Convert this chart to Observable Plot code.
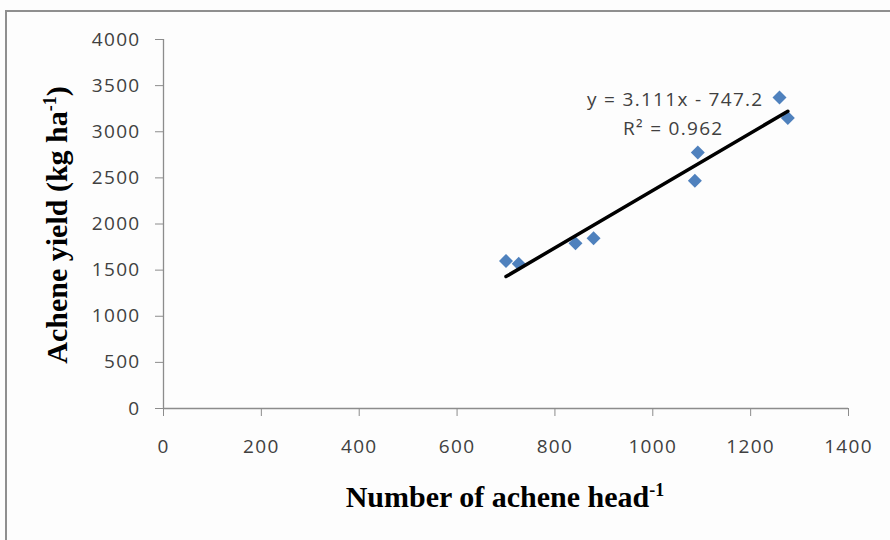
<!DOCTYPE html>
<html>
<head>
<meta charset="utf-8">
<script src="https://cdn.jsdelivr.net/npm/d3@7"></script>
<script src="https://cdn.jsdelivr.net/npm/@observablehq/plot@0.6"></script>
<style>
  body { margin: 0; background: #ffffff; }
  #wrap { position: relative; width: 890px; height: 540px; overflow: hidden; background: #fdfdfd; }
  #frame { position: absolute; left: 5px; top: 10px; width: 900px; height: 540px;
           border-left: 2px solid #8f8f8f; border-top: 2px solid #8f8f8f; pointer-events: none; }
  #chart { position: absolute; left: 0; top: 0; }
  #chart svg text.tick-text, #chart svg g.tick-text text { letter-spacing: 1.3px; }
</style>
</head>
<body>
<div id="wrap"><div id="chart"></div><div id="frame"></div></div>
<script>
// Data
const achenePerHead = [700, 726, 842, 879, 1086, 1092, 1259, 1276];
const yieldKgHa     = [1600, 1570, 1790, 1845, 2470, 2775, 3370, 3150];
const xTicks = [0, 200, 400, 600, 800, 1000, 1200, 1400];
const yTicks = [0, 500, 1000, 1500, 2000, 2500, 3000, 3500, 4000];
const slope = 3.111;
const intercept = -747.2;
const rSquared = 0.962;
const equationText = "y = 3.111x - 747.2";
const r2Text = "R² = 0.962";

const points = achenePerHead.map((x, i) => ({x, y: yieldKgHa[i]}));
const trend = d3.extent(achenePerHead).map(x => ({x, y: slope * x + intercept}));
const topPoint = points.reduce((a, b) => (b.y > a.y ? b : a));

const axisGray = "#8c8c8c";
const textGray = "#404040";

const plot = Plot.plot({
  width: 890,
  height: 540,
  marginLeft: 163,
  marginRight: 42,
  marginTop: 39,
  marginBottom: 132,
  style: { fontFamily: "'Open Sans', sans-serif", fontSize: "19px", background: "transparent", color: textGray },
  x: { domain: [0, 1400], ticks: xTicks },
  y: { domain: [0, 4000], ticks: yTicks },
  marks: [
    Plot.ruleY([0], { stroke: axisGray, strokeWidth: 1.3 }),
    Plot.ruleX([0], { stroke: axisGray, strokeWidth: 1.3 }),
    Plot.axisY({ ticks: yTicks, tickSize: 8, tickPadding: 15, stroke: axisGray, fill: textGray, fontSize: 19,
                 label: null, tickFormat: d => String(d), className: "tick-text" }),
    Plot.axisX({ ticks: xTicks, tickSize: 8, tickPadding: 23, stroke: axisGray, fill: textGray, fontSize: 19,
                 label: null, tickFormat: d => String(d), className: "tick-text" }),
    Plot.dot(points, { x: "x", y: "y", symbol: "diamond2", r: 6.3, fill: "#4f81bd", stroke: "none" }),
    Plot.line(trend, { x: "x", y: "y", stroke: "#000000", strokeWidth: 3.5 }),
    Plot.text([topPoint], { x: "x", y: "y", text: () => equationText, textAnchor: "end",
                            dx: -16, dy: 2, fill: textGray, fontSize: 19, className: "tick-text" }),
    Plot.text([topPoint], { x: "x", y: "y", text: () => r2Text, textAnchor: "end",
                            dx: -56, dy: 31, fill: textGray, fontSize: 19, className: "tick-text" })
  ]
});

document.getElementById("chart").appendChild(plot);
const svg = d3.select(plot);

// Y axis title (rotated)
const yt = svg.append("text")
  .attr("transform", "translate(67,225) rotate(-90)")
  .attr("text-anchor", "middle")
  .attr("font-family", "'Liberation Serif', 'Times New Roman', serif")
  .attr("font-weight", "bold")
  .attr("font-size", 30)
  .attr("fill", "#000");
yt.append("tspan").text("Achene yield (kg ha");
yt.append("tspan").attr("dy", -11).attr("font-size", 18).text("-1");
yt.append("tspan").attr("dy", 11).text(")");

// X axis title
const xt = svg.append("text")
  .attr("x", 505)
  .attr("y", 507)
  .attr("text-anchor", "middle")
  .attr("font-family", "'Liberation Serif', 'Times New Roman', serif")
  .attr("font-weight", "bold")
  .attr("font-size", 30)
  .attr("fill", "#000");
xt.append("tspan").text("Number of achene head");
xt.append("tspan").attr("dy", -11).attr("font-size", 18).text("-1");
</script>
</body>
</html>
